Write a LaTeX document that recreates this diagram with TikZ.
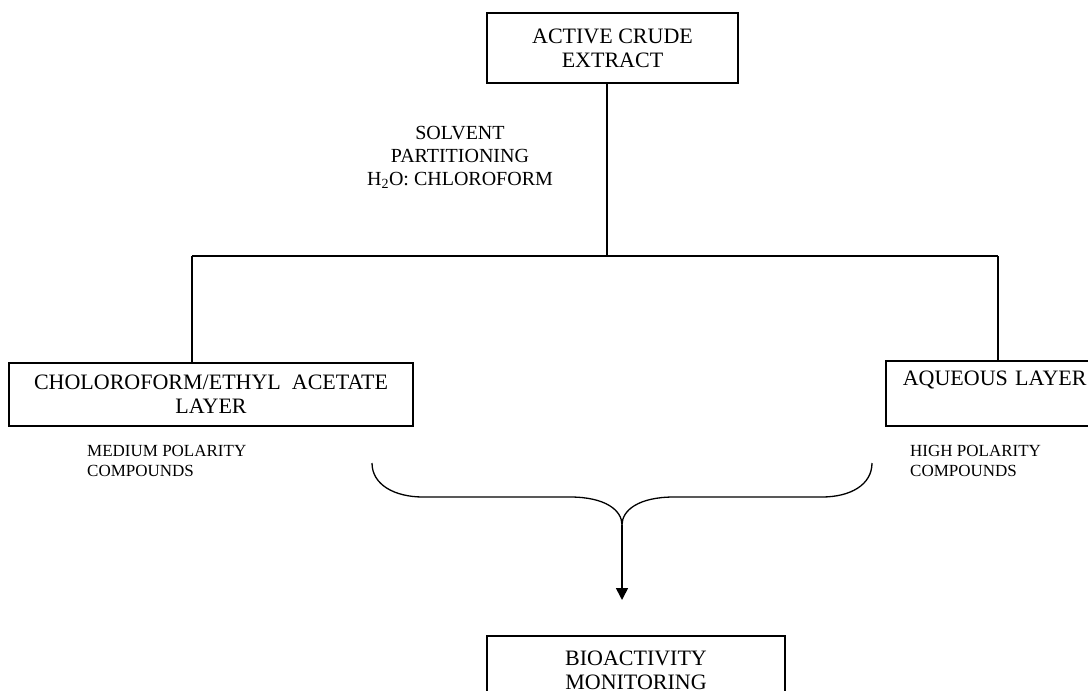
\documentclass[tikz,border=0pt]{standalone}
\usepackage{fontspec}
\setmainfont{Liberation Serif}
\usetikzlibrary{arrows.meta}

\begin{document}
\begin{tikzpicture}[x=1pt,y=-1pt]
\tikzstyle{every node}=[font=\fontsize{22}{24}\selectfont]
\tikzstyle{layerbox}=[draw, line width=1.6pt, align=center, inner sep=0pt]
\tikzstyle{note}=[font=\fontsize{17}{20}\selectfont, align=left, inner sep=0pt]
\tikzstyle{link}=[line width=1.6pt]
\tikzstyle{curly}=[line width=1.3pt]

\useasboundingbox (0,0) rectangle (1088,691);

\node[layerbox, minimum width=251pt, minimum height=70pt] (crude) at (612.5,48) {ACTIVE CRUDE\\EXTRACT};

\node[align=center, font=\fontsize{20}{23}\selectfont] (solvent) at (460,157) {SOLVENT\\PARTITIONING\\H\textsubscript{2}O: CHLOROFORM};

\node[layerbox, minimum width=404pt, minimum height=63pt] (chloro) at (211,394.5) {CHOLOROFORM/ETHYL\ \ ACETATE\\LAYER};
\node[layerbox, anchor=west, align=left, text width=200pt, inner xsep=17pt, minimum height=65pt] (aqueous) at (885,393.5) {AQUEOUS LAYER\\\strut};

\node[note, anchor=north west] (medium) at (87,445) {MEDIUM POLARITY\\COMPOUNDS};
\node[note, anchor=north west] (high) at (910,445) {HIGH POLARITY\\COMPOUNDS};

\node[layerbox, anchor=north, minimum width=298pt, minimum height=70pt] (bio) at (636,635) {BIOACTIVITY\\MONITORING};

% splitting lines
\coordinate (split) at (607,256);
\coordinate (lft) at (192,256);
\coordinate (rgt) at (998,256);
\draw[link] (split |- crude.south) -- (split);
\draw[link] (lft) -- (rgt);
\draw[link] (lft) -- (lft |- chloro.north);
\draw[link] (rgt) -- (rgt |- aqueous.north);

% brace and arrow
\coordinate (tip) at (622,525);
\coordinate (target) at (622,600);
\draw[curly] (372,463) .. controls (372,485) and (395,497) .. (423,497) -- (570,497)
  .. controls (605,497) and (622,510) .. (tip)
  .. controls (622,510) and (639,497) .. (674,497) -- (822,497)
  .. controls (850,497) and (872,485) .. (872,463);
\draw[link, -{Triangle[width=12pt,length=12pt]}] (tip) -- (target);

\end{tikzpicture}
\end{document}
